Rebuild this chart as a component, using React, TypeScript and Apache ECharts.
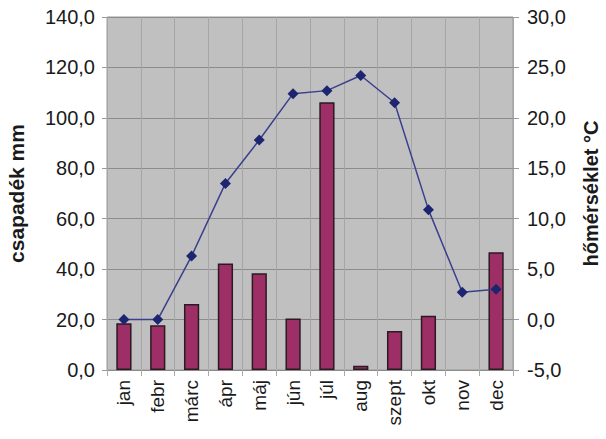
import React, { useEffect, useRef } from "react";
import * as echarts from "echarts";

const months = ["jan", "febr", "márc", "ápr", "máj", "jún", "júl", "aug", "szept", "okt", "nov", "dec"];
const precipitation = [18.5, 17.7, 26.2, 42.2, 38.4, 20.4, 106.2, 1.7, 15.5, 21.5, 0, 46.7];
const temperature = [0.0, 0.0, 6.3, 13.5, 17.8, 22.4, 22.7, 24.2, 21.5, 10.9, 2.7, 3.0];

const fmt = (v: number) => v.toFixed(1).replace(".", ",");

export default function App() {
  const ref = useRef<HTMLDivElement>(null);
  useEffect(() => {
    const chart = echarts.init(ref.current!, null, { renderer: "svg" });
    const font = "Liberation Sans, Arial, sans-serif";
    chart.setOption({
      animation: false,
      backgroundColor: "#ffffff",
      grid: {
        left: 107,
        right: 93,
        top: 17,
        bottom: 69,
        containLabel: false,
        outerBoundsMode: "none",
        show: true,
        backgroundColor: "#c0c0c0",
        borderColor: "#9a9a9a",
        borderWidth: 1,
      },
      xAxis: {
        type: "category",
        data: months,
        boundaryGap: true,
        axisLine: { show: true, lineStyle: { color: "#8a8a8a", width: 1 } },
        axisTick: { show: true, length: 6, lineStyle: { color: "#aaaaaa" } },
        splitLine: { show: true, lineStyle: { color: "#a6a6a6", width: 1 } },
        axisLabel: {
          rotate: 90,
          fontSize: 19,
          color: "#1a1a1a",
          fontFamily: font,
          margin: 10,
        },
      },
      yAxis: [
        {
          type: "value",
          min: 0,
          max: 140,
          interval: 20,
          name: "csapadék mm",
          nameLocation: "middle",
          nameGap: 80,
          nameTextStyle: { fontSize: 21, fontWeight: "bold", color: "#1a1a1a", fontFamily: font },
          axisLine: { show: false },
          axisTick: { show: true, length: 5, lineStyle: { color: "#9a9a9a" } },
          splitLine: { show: true, lineStyle: { color: "#8c8c8c", width: 1 } },
          axisLabel: { formatter: fmt, fontSize: 20, color: "#1a1a1a", fontFamily: font, margin: 12 },
        },
        {
          type: "value",
          min: -5,
          max: 30,
          interval: 5,
          name: "hőmérséklet °C",
          nameLocation: "middle",
          nameGap: 68,
          nameRotate: 90,
          nameTextStyle: { fontSize: 20, fontWeight: "bold", color: "#1a1a1a", fontFamily: font },
          axisLine: { show: false },
          axisTick: { show: true, length: 6, lineStyle: { color: "#9a9a9a" } },
          splitLine: { show: false },
          axisLabel: { formatter: fmt, fontSize: 20, color: "#1a1a1a", fontFamily: font, margin: 14 },
        },
      ],
      series: [
        {
          type: "bar",
          yAxisIndex: 0,
          data: precipitation.map((v) => (v === 0 ? { value: v, itemStyle: { borderWidth: 0 } } : v)),
          barWidth: "45%",
          itemStyle: { color: "#9e2f66", borderColor: "#2a1a22", borderWidth: 1.5 },
        },
        {
          type: "line",
          yAxisIndex: 1,
          data: temperature,
          symbol: "diamond",
          symbolSize: 11,
          lineStyle: { color: "#3a3f8e", width: 1.5 },
          itemStyle: { color: "#1e2570" },
        },
      ],
    });
    return () => chart.dispose();
  }, []);
  return <div ref={ref} style={{ position: "fixed", left: 0, top: 0, width: 606, height: 439 }} />;
}
